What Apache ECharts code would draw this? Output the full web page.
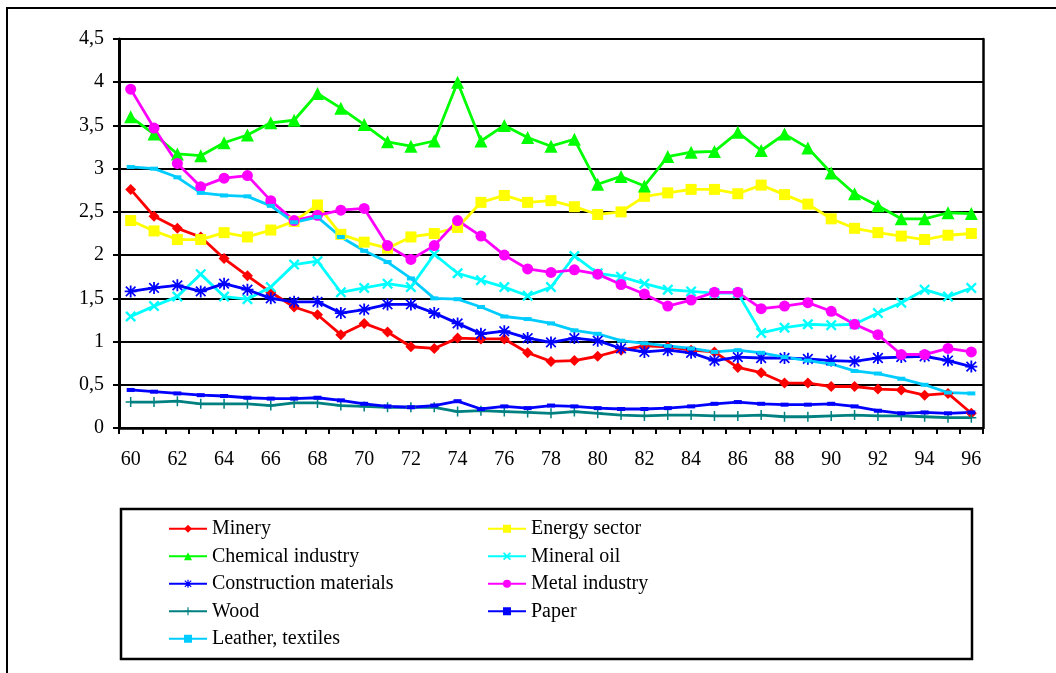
<!DOCTYPE html>
<html>
<head>
<meta charset="utf-8">
<script src="https://cdn.jsdelivr.net/npm/echarts@6/dist/echarts.min.js"></script>
<style>html,body{margin:0;padding:0;background:#fff}#c{width:1056px;height:673px}</style>
</head>
<body>
<div id="c"></div>
<script>
const years = ['60','61','62','63','64','65','66','67','68','69','70','71','72','73','74','75','76','77','78','79','80','81','82','83','84','85','86','87','88','89','90','91','92','93','94','95','96'];
const yTicks = [0, 0.5, 1, 1.5, 2, 2.5, 3, 3.5, 4, 4.5];
const minery = [2.76,2.45,2.31,2.21,1.96,1.76,1.57,1.40,1.31,1.08,1.21,1.11,0.94,0.92,1.04,1.03,1.03,0.87,0.77,0.78,0.83,0.90,0.95,0.94,0.90,0.88,0.70,0.64,0.52,0.52,0.48,0.48,0.45,0.44,0.38,0.40,0.17];
const energy = [2.40,2.28,2.18,2.18,2.26,2.21,2.29,2.39,2.58,2.24,2.15,2.08,2.21,2.25,2.32,2.61,2.69,2.61,2.63,2.56,2.47,2.50,2.68,2.72,2.76,2.76,2.71,2.81,2.70,2.59,2.42,2.31,2.26,2.22,2.18,2.23,2.25];
const chemical = [3.60,3.40,3.17,3.15,3.30,3.39,3.53,3.56,3.87,3.70,3.51,3.31,3.26,3.32,4.00,3.32,3.50,3.36,3.26,3.34,2.82,2.91,2.80,3.14,3.19,3.20,3.42,3.21,3.40,3.24,2.95,2.71,2.57,2.42,2.42,2.49,2.48];
const mineralOil = [1.29,1.41,1.52,1.78,1.52,1.49,1.63,1.89,1.93,1.57,1.62,1.67,1.63,2.01,1.79,1.71,1.63,1.53,1.63,1.99,1.79,1.75,1.67,1.60,1.58,1.56,1.56,1.10,1.16,1.20,1.19,1.20,1.33,1.45,1.60,1.52,1.62];
const construction = [1.58,1.62,1.65,1.58,1.67,1.60,1.50,1.46,1.46,1.33,1.37,1.43,1.43,1.33,1.21,1.09,1.12,1.04,0.99,1.04,1.01,0.92,0.88,0.90,0.87,0.78,0.82,0.81,0.81,0.80,0.78,0.77,0.81,0.82,0.83,0.78,0.71];
const metal = [3.92,3.47,3.06,2.79,2.89,2.92,2.63,2.40,2.46,2.52,2.54,2.11,1.95,2.11,2.40,2.22,2.00,1.84,1.80,1.83,1.78,1.66,1.55,1.41,1.48,1.57,1.57,1.38,1.41,1.45,1.35,1.20,1.08,0.85,0.85,0.92,0.88];
const wood = [0.30,0.30,0.31,0.28,0.28,0.28,0.26,0.29,0.29,0.26,0.25,0.24,0.24,0.24,0.19,0.20,0.19,0.18,0.17,0.19,0.17,0.15,0.14,0.15,0.15,0.14,0.14,0.15,0.13,0.13,0.14,0.15,0.14,0.14,0.13,0.12,0.12];
const paper = [0.44,0.42,0.40,0.38,0.37,0.35,0.34,0.34,0.35,0.32,0.28,0.25,0.24,0.26,0.31,0.22,0.25,0.23,0.26,0.25,0.23,0.22,0.22,0.23,0.25,0.28,0.30,0.28,0.27,0.27,0.28,0.25,0.20,0.17,0.18,0.17,0.18];
const leather = [3.02,3.00,2.90,2.72,2.69,2.68,2.57,2.38,2.44,2.21,2.05,1.92,1.73,1.50,1.49,1.40,1.29,1.26,1.21,1.13,1.09,1.01,0.98,0.95,0.92,0.88,0.90,0.87,0.82,0.78,0.74,0.66,0.63,0.57,0.50,0.41,0.40];

const legendLeft = ['Minery','Chemical industry','Construction materials','Wood','Leather, textiles'];
const legendRight = ['Energy sector','Mineral oil','Metal industry','Paper'];

const X_PATH = 'path://M0,3 L3,0 L10,7 L17,0 L20,3 L13,10 L20,17 L17,20 L10,13 L3,20 L0,17 L7,10 Z';
const PLUS_PATH = 'path://M8.5,0 H11.5 V8.5 H20 V11.5 H11.5 V20 H8.5 V11.5 H0 V8.5 H8.5 Z';
const STAR_PATH = 'path://M8.5,0 H11.5 V8.5 H20 V11.5 H11.5 V20 H8.5 V11.5 H0 V8.5 H8.5 Z M1,3 L3,1 L10,8 L17,1 L19,3 L12,10 L19,17 L17,19 L10,12 L3,19 L1,17 L8,10 Z';

function mk(name, data, color, symbol, size) {
  return {
    name: name, type: 'line', data: data, symbol: symbol, symbolSize: size,
    showSymbol: true,
    lineStyle: { color: color, width: 2.8 },
    itemStyle: { color: color, borderWidth: 0 },
    emphasis: { disabled: true }
  };
}

const series = [
  mk('Minery', minery, '#FF0000', 'diamond', 11),
  mk('Energy sector', energy, '#FFFF00', 'rect', 11),
  mk('Chemical industry', chemical, '#00FF00', 'triangle', 13),
  mk('Mineral oil', mineralOil, '#00FFFF', X_PATH, 11),
  mk('Construction materials', construction, '#0000FF', STAR_PATH, 12),
  mk('Metal industry', metal, '#FF00FF', 'circle', 11),
  mk('Wood', wood, '#008080', PLUS_PATH, 10),
  mk('Paper', paper, '#0000FF', 'rect', [8, 4]),
  mk('Leather, textiles', leather, '#00CCFF', 'rect', [8, 4])
];

const legendText = { fontFamily: 'Liberation Serif', fontSize: 20, color: '#000', lineHeight: 27.5 };
const chart = echarts.init(document.getElementById('c'), null, { renderer: 'canvas' });
chart.setOption({
  animation: false,
  backgroundColor: '#fff',
  graphic: [
    { type: 'rect', shape: { x: 7, y: 8, width: 1100, height: 700 }, style: { fill: 'none', stroke: '#000', lineWidth: 2 }, silent: true },
    { type: 'rect', shape: { x: 121, y: 509, width: 851, height: 150 }, style: { fill: 'none', stroke: '#000', lineWidth: 2.5 }, silent: true }
  ],
  grid: { left: 119, right: 73, top: 39, bottom: 245, containLabel: false },
  legend: [
    { left: 168, top: 515, orient: 'vertical', itemWidth: 38, itemHeight: 10, itemGap: 0, padding: 0, selectedMode: false, data: legendLeft, textStyle: legendText },
    { left: 487, top: 515, orient: 'vertical', itemWidth: 38, itemHeight: 10, itemGap: 0, padding: 0, selectedMode: false, data: legendRight, textStyle: legendText }
  ],
  xAxis: {
    type: 'category', data: years, boundaryGap: true,
    axisLine: { lineStyle: { color: '#000', width: 2.5 } },
    axisTick: { show: true, interval: 0, length: 6, lineStyle: { color: '#000', width: 2 } },
    axisLabel: { interval: 1, margin: 22, fontFamily: 'Liberation Serif', fontSize: 20, color: '#000' },
    splitLine: { show: false }
  },
  yAxis: [{
    type: 'value', min: 0, max: 4.5, interval: 0.5,
    axisLine: { show: true, lineStyle: { color: '#000', width: 3 } },
    axisTick: { show: true, length: 6, lineStyle: { color: '#000', width: 2 } },
    axisLabel: { margin: 15, fontFamily: 'Liberation Serif', fontSize: 20, color: '#000',
      formatter: function (v) { return yTicks.indexOf(v) >= 0 ? String(v).replace('.', ',') : ''; } },
    splitLine: { show: true, lineStyle: { color: '#000', width: 2 } }
  }, {
    type: 'value', min: 0, max: 4.5, interval: 0.5, position: 'right',
    axisLine: { show: true, lineStyle: { color: '#000', width: 2.5 } },
    axisTick: { show: false }, axisLabel: { show: false }, splitLine: { show: false }
  }],
  series: series
});
</script>
</body>
</html>
